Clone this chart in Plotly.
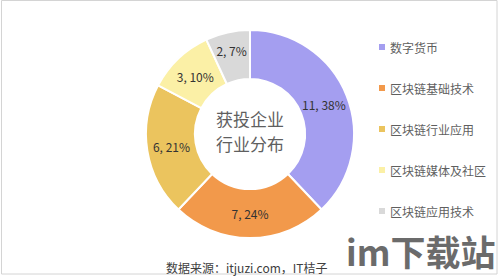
import plotly.graph_objects as go

# Sector breakdown of funded companies
categories = ["数字货币", "区块链基础技术", "区块链行业应用", "区块链媒体及社区", "区块链应用技术"]
counts = [11, 7, 6, 3, 2]
colors = ["#A49EF0", "#F2994B", "#EBC45E", "#FBF0A6", "#D9D9D9"]

center_lines = ["获投企业", "行业分布"]
source_text = "数据来源：itjuzi.com，IT桔子"
watermark = "im下载站"

W, H = 499, 278
FONT = "Microsoft YaHei, Noto Sans CJK SC, sans-serif"

fig = go.Figure(
    go.Pie(
        labels=categories,
        values=counts,
        hole=0.53,
        sort=False,
        direction="clockwise",
        rotation=0,
        marker=dict(colors=colors, line=dict(color="white", width=2)),
        texttemplate="%{value}, %{percent:.0%}",
        textposition="inside",
        insidetextorientation="horizontal",
        textfont=dict(size=12, color="#333333", family=FONT),
        domain=dict(x=[146 / W, 354 / W], y=[1 - 238 / H, 1 - 30 / H]),
        showlegend=False,
        hoverinfo="label+value+percent",
    )
)

annotations = []
# centre caption
for i, line in enumerate(center_lines):
    annotations.append(dict(
        x=250 / W, y=1 - (118 + i * 25) / H, xref="paper", yref="paper",
        text=line, showarrow=False, xanchor="center", yanchor="middle",
        font=dict(size=17, color="#5f5f5f", family=FONT),
    ))

# legend drawn as marker squares plus labels
shapes = []
leg_x = 382
leg_y0, leg_dy = 47, 41
for i, (name, col) in enumerate(zip(categories, colors)):
    yc = leg_y0 + i * leg_dy
    shapes.append(dict(
        type="rect", xref="paper", yref="paper",
        x0=(leg_x - 3) / W, x1=(leg_x + 3) / W,
        y0=1 - (yc + 3) / H, y1=1 - (yc - 3) / H,
        fillcolor=col, line=dict(width=0),
    ))
    annotations.append(dict(
        x=(leg_x + 6) / W, y=1 - yc / H, xref="paper", yref="paper",
        text=name, showarrow=False, xanchor="left", yanchor="middle",
        font=dict(size=12, color="#5f5f5f", family=FONT),
    ))

# source line
annotations.append(dict(
    x=164 / W, y=1 - 267 / H, xref="paper", yref="paper",
    text=source_text, showarrow=False, xanchor="left", yanchor="middle",
    font=dict(size=12, color="#404040", family=FONT),
))

# site mark
annotations.append(dict(
    x=497 / W, y=0, xref="paper", yref="paper",
    text="<b>" + watermark + "</b>", showarrow=False, xanchor="right", yanchor="bottom",
    font=dict(size=35, color="#6b6b6b", family=FONT),
))

# thin frame around the graphic
shapes.append(dict(
    type="rect", xref="paper", yref="paper",
    x0=1.5 / W, x1=497 / W, y0=1 - 274 / H, y1=1 - 0.5 / H,
    line=dict(color="#d4d4d4", width=1), fillcolor="rgba(0,0,0,0)", layer="below",
))

fig.update_layout(
    width=W, height=H,
    margin=dict(l=0, r=0, t=0, b=0),
    paper_bgcolor="white",
    plot_bgcolor="white",
    annotations=annotations,
    shapes=shapes,
)

fig.write_html("out.html")
